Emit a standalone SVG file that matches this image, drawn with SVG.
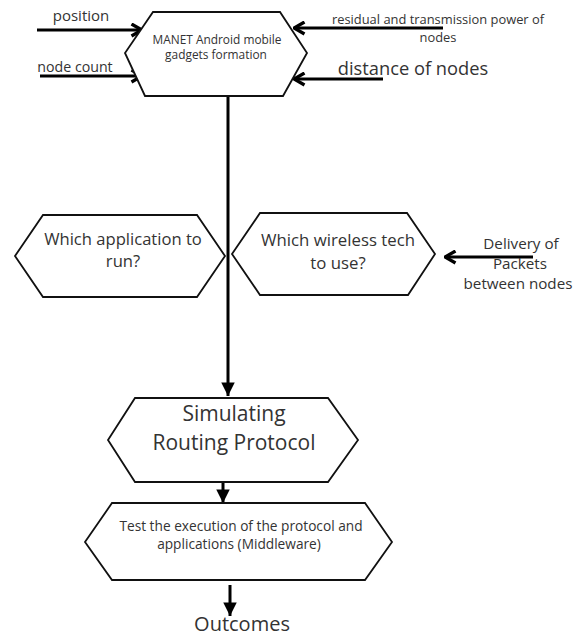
<svg xmlns="http://www.w3.org/2000/svg" width="587" height="637" viewBox="0 0 587 637">
<defs>
<style>
.hex{fill:#fff;stroke:#111;stroke-width:1.8;stroke-linejoin:miter}
.c{stroke:#000;stroke-width:3;fill:none}
.t{font-family:"Open Sans","DejaVu Sans",sans-serif;fill:#333;text-anchor:middle}
</style>
<marker id="chev" viewBox="0 0 10 10" refX="9" refY="5" markerWidth="5" markerHeight="5" orient="auto" markerUnits="strokeWidth">
<polyline points="2,1 9,5 2,9" fill="none" stroke="#000" stroke-width="2.2"/>
</marker>
<marker id="tri" viewBox="0 0 10 10" refX="10" refY="5" markerWidth="5" markerHeight="4.5" orient="auto" markerUnits="strokeWidth">
<path d="M0,0 L10,5 L0,10 z" fill="#000"/>
</marker>
</defs>
<rect width="587" height="637" fill="#fff"/>
<g id="connectors">
<line class="c" x1="37" y1="30" x2="142" y2="30" marker-end="url(#chev)"/>
<line class="c" x1="40" y1="76" x2="142" y2="76" marker-end="url(#chev)"/>
<line class="c" x1="443" y1="28" x2="294" y2="28" marker-end="url(#chev)"/>
<line class="c" x1="383" y1="79" x2="294" y2="79" marker-end="url(#chev)"/>
<line class="c" x1="533" y1="257" x2="445" y2="257" marker-end="url(#chev)"/>
<line class="c" x1="228" y1="96" x2="228" y2="396" marker-end="url(#tri)"/>
<line class="c" x1="223" y1="482" x2="223" y2="503" marker-end="url(#tri)"/>
<line class="c" x1="230" y1="585" x2="230" y2="616" marker-end="url(#tri)"/>
</g>
<g id="n-manet">
<polygon class="hex" points="153,12 280,12 307,53 283,96 145,96 125,53"/>
<text class="t" font-size="11.9" x="217" y="44">MANET Android mobile</text>
<text class="t" font-size="11.9" x="216" y="59">gadgets formation</text>
</g>
<g id="n-position"><text class="t" font-size="15" x="81" y="21">position</text></g>
<g id="n-nodecount"><text class="t" font-size="14.2" x="75" y="72">node count</text></g>
<g id="n-residual">
<text class="t" font-size="12.9" x="438" y="24">residual and transmission power of</text>
<text class="t" font-size="12.9" x="438" y="42">nodes</text>
</g>
<g id="n-distance"><text class="t" font-size="18.3" x="413" y="75">distance of nodes</text></g>
<g id="n-app">
<polygon class="hex" points="43,215 197,215 225,256 197,297 43,297 15,256"/>
<text class="t" font-size="16.6" x="123" y="245">Which application to</text>
<text class="t" font-size="16.6" x="123" y="267">run?</text>
</g>
<g id="n-wireless">
<polygon class="hex" points="260,213 407,213 435,254 408,295 260,295 232,254"/>
<text class="t" font-size="16.8" x="338" y="246">Which wireless tech</text>
<text class="t" font-size="16.8" x="338" y="269">to use?</text>
</g>
<g id="n-delivery">
<text class="t" font-size="15.2" x="521" y="249">Delivery of</text>
<text class="t" font-size="15.2" x="520" y="269">Packets</text>
<text class="t" font-size="15.2" x="518" y="289">between nodes</text>
</g>
<g id="n-sim">
<polygon class="hex" points="135,398 328,398 358,440 328,482 135,482 108,440"/>
<text class="t" font-size="21" x="234" y="421">Simulating</text>
<text class="t" font-size="21" x="234" y="450">Routing Protocol</text>
</g>
<g id="n-test">
<polygon class="hex" points="112,503 365,503 392,542 365,580 112,580 85,542"/>
<text class="t" font-size="13.7" x="241" y="531">Test the execution of the protocol and</text>
<text class="t" font-size="13.7" x="239" y="549">applications (Middleware)</text>
</g>
<g id="n-outcomes"><text class="t" font-size="20" x="242" y="631">Outcomes</text></g>
</svg>
